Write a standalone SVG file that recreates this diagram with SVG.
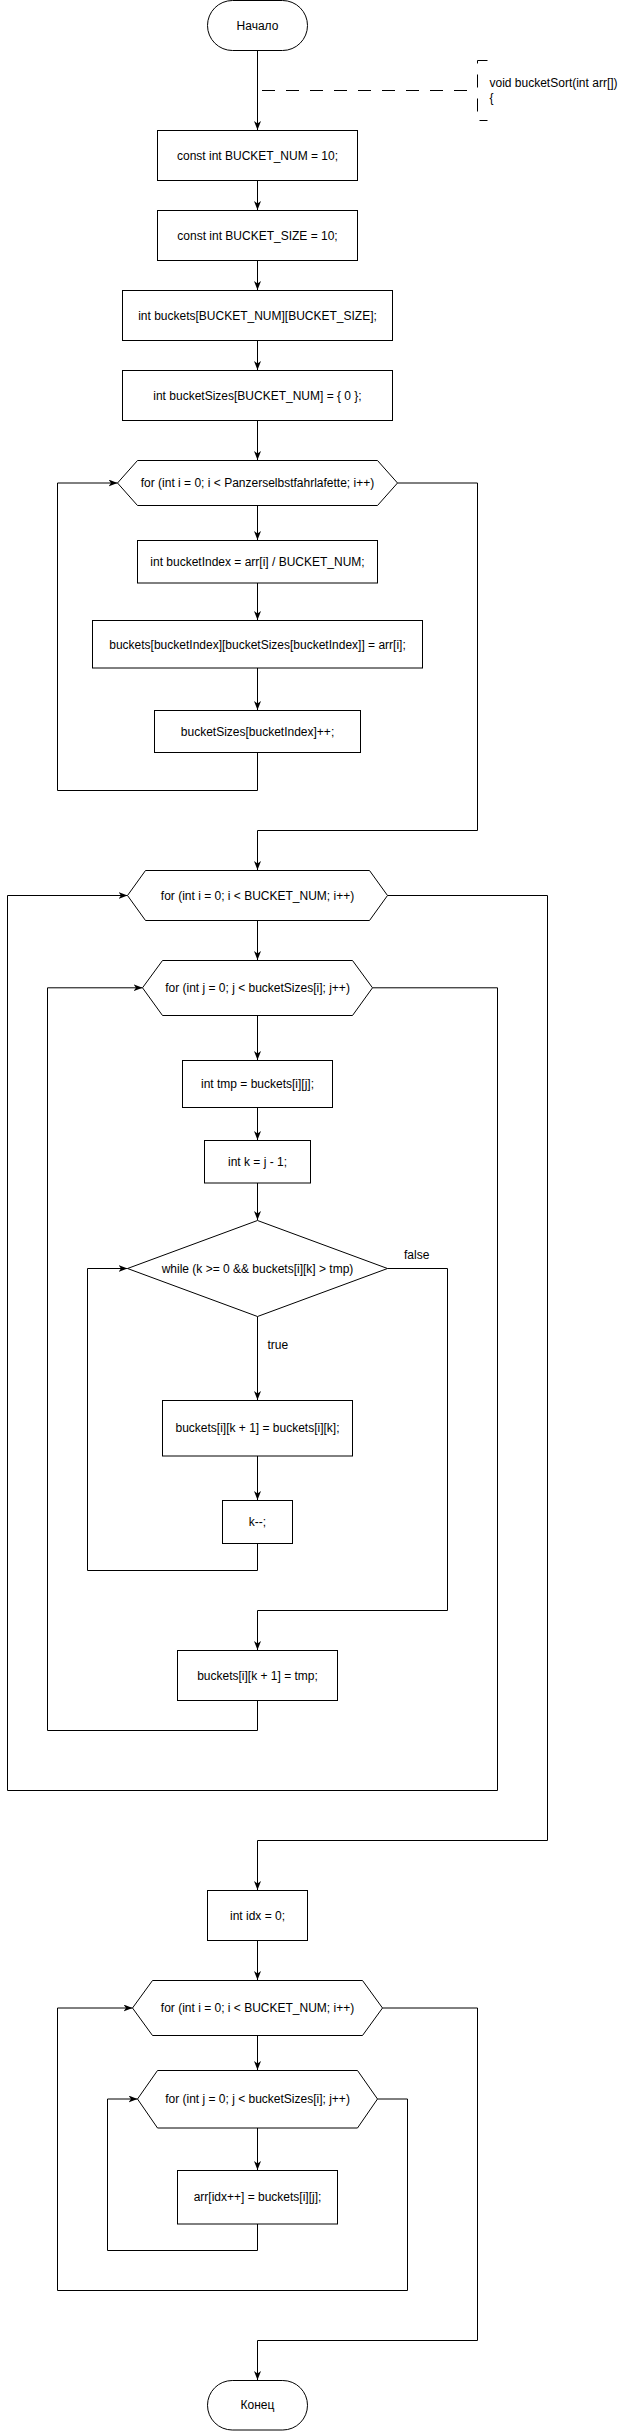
<svg xmlns="http://www.w3.org/2000/svg" width="618" height="2431" viewBox="0 0 618 2431">
<style>
.s{fill:#fff;stroke:#000;stroke-width:1}
.t{font-family:"Liberation Sans",Arial,Helvetica,sans-serif;font-size:12px;fill:#000;text-anchor:middle}
.l{font-family:"Liberation Sans",Arial,Helvetica,sans-serif;font-size:12px;fill:#000}
.e{fill:none;stroke:#000;stroke-width:1;marker-end:url(#arr)}
.n{fill:none;stroke:#000;stroke-width:1}
.d{fill:none;stroke:#000;stroke-width:1;stroke-dasharray:13 11}
</style>
<defs>
<marker id="arr" markerUnits="userSpaceOnUse" markerWidth="10" markerHeight="8" refX="9" refY="3.5" orient="auto">
<path d="M0,0 L9,3.5 L0,7 L2.5,3.5 Z" fill="#000"/>
</marker>
</defs>
<rect width="618" height="2431" fill="#fff"/>
<g id="connectors">
<path class="e" d="M257.5,50.5 L257.5,130"/>
<path class="d" d="M262,90.5 L477.5,90.5"/>
<path class="e" d="M257.5,180.5 L257.5,210"/>
<path class="e" d="M257.5,260.5 L257.5,290"/>
<path class="e" d="M257.5,340.5 L257.5,370"/>
<path class="e" d="M257.5,420.5 L257.5,460"/>
<path class="e" d="M257.5,505.5 L257.5,540"/>
<path class="e" d="M257.5,583 L257.5,620"/>
<path class="e" d="M257.5,668 L257.5,710"/>
<path class="e" d="M257.5,752.5 L257.5,790.5 L57.5,790.5 L57.5,483 L117.5,483"/>
<path class="e" d="M397.5,483 L477.5,483 L477.5,830.5 L257.5,830.5 L257.5,870"/>
<path class="e" d="M257.5,920.5 L257.5,960"/>
<path class="e" d="M257.5,1015.5 L257.5,1060"/>
<path class="e" d="M257.5,1107.5 L257.5,1140"/>
<path class="e" d="M257.5,1183 L257.5,1220"/>
<path class="e" d="M257.5,1316.5 L257.5,1400"/>
<text class="l" x="267.5" y="1349">true</text>
<path class="e" d="M257.5,1456 L257.5,1500"/>
<path class="e" d="M257.5,1543.5 L257.5,1570.5 L87.5,1570.5 L87.5,1268.5 L127.5,1268.5"/>
<path class="e" d="M387.5,1268.5 L447.5,1268.5 L447.5,1610.5 L257.5,1610.5 L257.5,1650"/>
<text class="l" x="404" y="1259">false</text>
<path class="e" d="M257.5,1700.5 L257.5,1730.5 L47.5,1730.5 L47.5,987.8 L142.5,987.8"/>
<path class="e" d="M372.5,987.8 L497.5,987.8 L497.5,1790.5 L7.5,1790.5 L7.5,895.5 L127.5,895.5"/>
<path class="e" d="M387.5,895.5 L547.5,895.5 L547.5,1840.5 L257.5,1840.5 L257.5,1890"/>
<path class="e" d="M257.5,1940.5 L257.5,1980"/>
<path class="e" d="M257.5,2035.5 L257.5,2070"/>
<path class="e" d="M257.5,2128 L257.5,2170"/>
<path class="e" d="M257.5,2224 L257.5,2250.5 L107.5,2250.5 L107.5,2099 L137.5,2099"/>
<path class="e" d="M377.5,2099 L407.5,2099 L407.5,2290.5 L57.5,2290.5 L57.5,2008 L132.5,2008"/>
<path class="e" d="M382.5,2008 L477.5,2008 L477.5,2340.5 L257.5,2340.5 L257.5,2380"/>
</g>
<g id="start">
<rect class="s" x="207.5" y="0.5" width="100" height="50" rx="25" ry="25"/>
<text class="t" x="257.5" y="29.5">Начало</text>
</g>
<g id="annotation">
<path class="d" d="M487.5,60.5 L477.5,60.5 L477.5,120.5 L487.5,120.5"/>
<text class="l" x="489.5" y="87">void bucketSort(int arr[])</text>
<text class="l" x="489.5" y="101.5">{</text>
</g>
<g id="n1">
<rect class="s" x="157.5" y="130.5" width="200" height="50"/>
<text class="t" x="257.5" y="159.5">const int BUCKET_NUM = 10;</text>
</g>
<g id="n2">
<rect class="s" x="157.5" y="210.5" width="200" height="50"/>
<text class="t" x="257.5" y="239.5">const int BUCKET_SIZE = 10;</text>
</g>
<g id="n3">
<rect class="s" x="122.5" y="290.5" width="270" height="50"/>
<text class="t" x="257.5" y="319.5">int buckets[BUCKET_NUM][BUCKET_SIZE];</text>
</g>
<g id="n4">
<rect class="s" x="122.5" y="370.5" width="270" height="50"/>
<text class="t" x="257.5" y="399.5">int bucketSizes[BUCKET_NUM] = { 0 };</text>
</g>
<g id="loop1">
<polygon class="s" points="117.5,483 137.5,460.5 377.5,460.5 397.5,483 377.5,505.5 137.5,505.5"/>
<text class="t" x="257.5" y="487">for (int i = 0; i &lt; Panzerselbstfahrlafette; i++)</text>
</g>
<g id="n5">
<rect class="s" x="137.5" y="540.5" width="240" height="42.5"/>
<text class="t" x="257.5" y="566">int bucketIndex = arr[i] / BUCKET_NUM;</text>
</g>
<g id="n6">
<rect class="s" x="92.5" y="620.5" width="330" height="47.5"/>
<text class="t" x="257.5" y="648.5">buckets[bucketIndex][bucketSizes[bucketIndex]] = arr[i];</text>
</g>
<g id="n7">
<rect class="s" x="154.5" y="710.5" width="206" height="42"/>
<text class="t" x="257.5" y="735.5">bucketSizes[bucketIndex]++;</text>
</g>
<g id="loop2">
<polygon class="s" points="127.5,895.5 145.5,870.5 369.5,870.5 387.5,895.5 369.5,920.5 145.5,920.5"/>
<text class="t" x="257.5" y="899.5">for (int i = 0; i &lt; BUCKET_NUM; i++)</text>
</g>
<g id="loop3">
<polygon class="s" points="142.5,987.8 162.5,960.5 352.5,960.5 372.5,987.8 352.5,1015.5 162.5,1015.5"/>
<text class="t" x="257.5" y="992">for (int j = 0; j &lt; bucketSizes[i]; j++)</text>
</g>
<g id="n8">
<rect class="s" x="182.5" y="1060.5" width="150" height="47"/>
<text class="t" x="257.5" y="1088">int tmp = buckets[i][j];</text>
</g>
<g id="n9">
<rect class="s" x="204.5" y="1140.5" width="106" height="42.5"/>
<text class="t" x="257.5" y="1166">int k = j - 1;</text>
</g>
<g id="while">
<polygon class="s" points="257.5,1220.5 387.5,1268.5 257.5,1316.5 127.5,1268.5"/>
<text class="t" x="257.5" y="1272.5">while (k &gt;= 0 &amp;&amp; buckets[i][k] &gt; tmp)</text>
</g>
<g id="n10">
<rect class="s" x="162.5" y="1400.5" width="190" height="55.5"/>
<text class="t" x="257.5" y="1432">buckets[i][k + 1] = buckets[i][k];</text>
</g>
<g id="n11">
<rect class="s" x="222.5" y="1500.5" width="70" height="43"/>
<text class="t" x="257.5" y="1526">k--;</text>
</g>
<g id="n12">
<rect class="s" x="177.5" y="1650.5" width="160" height="50"/>
<text class="t" x="257.5" y="1679.5">buckets[i][k + 1] = tmp;</text>
</g>
<g id="n13">
<rect class="s" x="207.5" y="1890.5" width="100" height="50"/>
<text class="t" x="257.5" y="1919.5">int idx = 0;</text>
</g>
<g id="loop4">
<polygon class="s" points="132.5,2008 152.5,1980.5 362.5,1980.5 382.5,2008 362.5,2035.5 152.5,2035.5"/>
<text class="t" x="257.5" y="2012">for (int i = 0; i &lt; BUCKET_NUM; i++)</text>
</g>
<g id="loop5">
<polygon class="s" points="137.5,2099 157.5,2070.5 357.5,2070.5 377.5,2099 357.5,2128 157.5,2128"/>
<text class="t" x="257.5" y="2103">for (int j = 0; j &lt; bucketSizes[i]; j++)</text>
</g>
<g id="n14">
<rect class="s" x="177.5" y="2170.5" width="160" height="53.5"/>
<text class="t" x="257.5" y="2201">arr[idx++] = buckets[i][j];</text>
</g>
<g id="end">
<rect class="s" x="207.5" y="2380.5" width="100" height="49.5" rx="24.75" ry="24.75"/>
<text class="t" x="257.5" y="2409">Конец</text>
</g>
</svg>
